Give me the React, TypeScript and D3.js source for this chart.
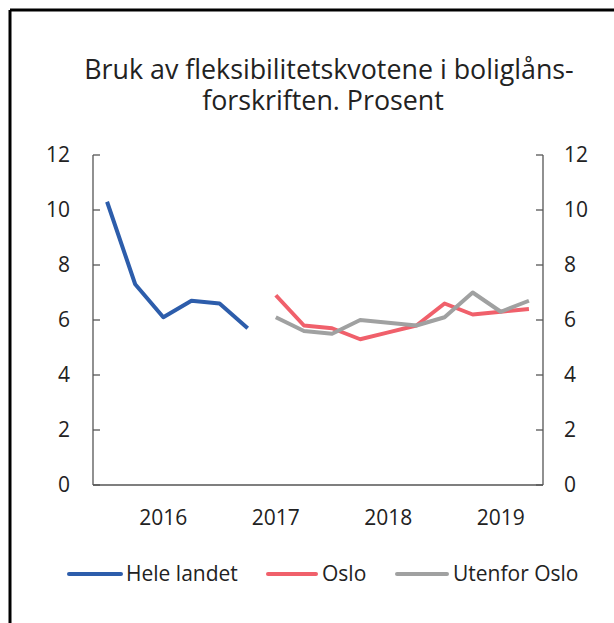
import React from "react";
import * as d3 from "d3";

const quarters = [
  "2015K3", "2015K4", "2016K1", "2016K2", "2016K3", "2016K4",
  "2017K1", "2017K2", "2017K3", "2017K4", "2018K1", "2018K2",
  "2018K3", "2018K4", "2019K1", "2019K2",
];
const heleLandet: (number | null)[] = [10.3, 7.3, 6.1, 6.7, 6.6, 5.7, null, null, null, null, null, null, null, null, null, null];
const oslo: (number | null)[] = [null, null, null, null, null, null, 6.9, 5.8, 5.7, 5.3, 5.55, 5.8, 6.6, 6.2, 6.3, 6.4];
const utenforOslo: (number | null)[] = [null, null, null, null, null, null, 6.1, 5.6, 5.5, 6.0, 5.9, 5.8, 6.1, 7.0, 6.3, 6.7];
const yTicks = [0, 2, 4, 6, 8, 10, 12];
const xLabels = [
  { q: "2016K1", label: "2016" },
  { q: "2017K1", label: "2017" },
  { q: "2018K1", label: "2018" },
  { q: "2019K1", label: "2019" },
];
const seriesNames = ["Hele landet", "Oslo", "Utenfor Oslo"];
const seriesColors = ["#2d5dab", "#f0606b", "#a0a1a1"];

const FONT = "'Open Sans', 'Noto Sans', sans-serif";
const TEXT = "#222";

export default function App() {
  const W = 614, H = 623;
  const left = 93, right = 543, top = 155, bottom = 485;
  const x = d3.scalePoint<string>().domain(quarters).range([left, right]).padding(0.5);
  const y = d3.scaleLinear().domain([0, 12]).range([bottom, top]);
  const line = d3
    .line<number | null>()
    .defined((d) => d !== null)
    .x((_, i) => x(quarters[i]) as number)
    .y((d) => y(d as number));
  const allSeries = [heleLandet, oslo, utenforOslo];

  const legendItems = [
    { x0: 69, x1: 121, tx: 126 },
    { x0: 268, x1: 316, tx: 322 },
    { x0: 397, x1: 447, tx: 453 },
  ];

  return (
    <svg width={W} height={H} style={{ position: "absolute", left: 0, top: 0, background: "#fff" }} fontFamily={FONT}>
      <rect x={0} y={0} width={W} height={H} fill="#fff" />
      <line x1={10} y1={10} x2={W} y2={10} stroke="#000" strokeWidth={3} />
      <line x1={10} y1={10} x2={10} y2={H} stroke="#000" strokeWidth={3} />

      <text x={329} y={79} textAnchor="middle" fontSize={26.8} fill={TEXT}>Bruk av fleksibilitetskvotene i boliglåns-</text>
      <text x={323} y={110} textAnchor="middle" fontSize={26.8} fill={TEXT}>forskriften. Prosent</text>

      {/* axes */}
      <line x1={left} y1={top} x2={left} y2={bottom} stroke="#555" strokeWidth={1.3} />
      <line x1={right} y1={top} x2={right} y2={bottom} stroke="#555" strokeWidth={1.3} />
      <line x1={left} y1={bottom} x2={right} y2={bottom} stroke="#555" strokeWidth={1.3} />
      {yTicks.map((t) => (
        <g key={t}>
          <line x1={left} x2={left + 7} y1={y(t)} y2={y(t)} stroke="#555" strokeWidth={1.3} />
          <line x1={right - 7} x2={right} y1={y(t)} y2={y(t)} stroke="#555" strokeWidth={1.3} />
          <text x={70} y={y(t)} dy="0.35em" textAnchor="end" fontSize={21} fill={TEXT}>{t}</text>
          <text x={564} y={y(t)} dy="0.35em" textAnchor="start" fontSize={21} fill={TEXT}>{t}</text>
        </g>
      ))}
      {xLabels.map((l) => (
        <text key={l.label} x={x(l.q) as number} y={518} dy="0.35em" textAnchor="middle" fontSize={21} fill={TEXT}>{l.label}</text>
      ))}

      {allSeries.map((s, i) => (
        <path key={i} d={line(s) || ""} fill="none" stroke={seriesColors[i]} strokeWidth={4} strokeLinejoin="round" />
      ))}

      {seriesNames.map((n, i) => (
        <g key={n}>
          <line x1={legendItems[i].x0} x2={legendItems[i].x1} y1={574} y2={574} stroke={seriesColors[i]} strokeWidth={4} strokeLinecap="round" />
          <text x={legendItems[i].tx} y={574} dy="0.35em" fontSize={21} fill={TEXT}>{n}</text>
        </g>
      ))}
    </svg>
  );
}
